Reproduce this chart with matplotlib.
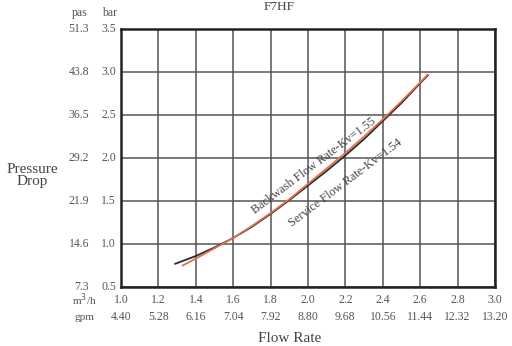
import matplotlib
matplotlib.use("Agg")
import matplotlib.pyplot as plt
import numpy as np

# ---- data ----
flow_m3h = [1.0, 1.2, 1.4, 1.6, 1.8, 2.0, 2.2, 2.4, 2.6, 2.8, 3.0]
flow_gpm = ["4.40", "5.28", "6.16", "7.04", "7.92", "8.80", "9.68", "10.56", "11.44", "12.32", "13.20"]
press_bar = [0.5, 1.0, 1.5, 2.0, 2.5, 3.0, 3.5]
press_pas = ["7.3", "14.6", "21.9", "29.2", "36.5", "43.8", "51.3"]

service_q = [1.29, 1.40, 1.50, 1.60, 1.70, 1.80, 1.90, 2.00, 2.10, 2.20, 2.30, 2.40, 2.50, 2.60, 2.64]
service_dp = [0.77, 0.86, 0.96, 1.07, 1.20, 1.35, 1.51, 1.68, 1.85, 2.03, 2.22, 2.43, 2.64, 2.87, 2.96]
backwash_q = [1.33, 1.40, 1.50, 1.60, 1.70, 1.80, 1.90, 2.00, 2.10, 2.20, 2.30, 2.40, 2.50, 2.60, 2.64]
backwash_dp = [0.75, 0.83, 0.95, 1.07, 1.21, 1.36, 1.52, 1.70, 1.88, 2.06, 2.25, 2.45, 2.66, 2.88, 2.97]

plt.rcParams['font.family'] = ['Liberation Serif', 'DejaVu Serif']

W, H = 512, 346
fig = plt.figure(figsize=(W / 100, H / 100), dpi=100)
L, R, T, B = 121, 495, 29, 287
ax = fig.add_axes([L / W, 1 - B / H, (R - L) / W, (B - T) / H])

ax.set_xlim(1.0, 3.0)
ax.set_ylim(0.5, 3.5)
ax.set_xticks(flow_m3h)
ax.set_yticks(press_bar)
ax.grid(True, color="#555555", linewidth=1.1)
ax.tick_params(length=0, labelbottom=False, labelleft=False)
for s in ax.spines.values():
    s.set_linewidth(1.8)
    s.set_color("#222222")

ax.plot(service_q, service_dp, color="#2a2a2a", linewidth=1.3, zorder=3,
        solid_joinstyle="round")
ax.plot(backwash_q, backwash_dp, color="#e0704f", linewidth=1.3, zorder=4,
        solid_joinstyle="round")

tc = "#555555"
fs = 8.5
aw = R - L
ah = B - T
# x tick labels
for q, g in zip(flow_m3h, flow_gpm):
    ax.text(q, -13 / ah, f"{q:.1f}", transform=ax.get_xaxis_transform(),
            ha="center", va="center", fontsize=fs, color=tc)
    ax.text(q, -30 / ah, g, transform=ax.get_xaxis_transform(),
            ha="center", va="center", fontsize=fs, color=tc)
ax.text((84 - L) / aw, -13 / ah, "m$^3$/h", transform=ax.transAxes,
        ha="center", va="center", fontsize=fs - 0.5, color=tc)
ax.text((84 - L) / aw, -30 / ah, "gpm", transform=ax.transAxes,
        ha="center", va="center", fontsize=fs - 0.5, color=tc)

# y tick labels
for b, p in zip(press_bar, press_pas):
    ax.text(-5 / aw, b, f"{b:.1f}", transform=ax.get_yaxis_transform(),
            ha="right", va="center", fontsize=fs, color=tc)
    ax.text((89 - L) / aw, b, p, transform=ax.get_yaxis_transform(),
            ha="right", va="center", fontsize=fs, color=tc)
fig.text(80 / W, 1 - 13 / H, "pas", ha="center", va="center", fontsize=fs, color=tc)
fig.text(110 / W, 1 - 13 / H, "bar", ha="center", va="center", fontsize=fs, color=tc)

fig.text(32 / W, 1 - 175 / H, "Pressure\nDrop", ha="center", va="center",
         fontsize=11, color="#444444", linespacing=0.9)
fig.text(290 / W, 1 - 339 / H, "Flow Rate", ha="center", va="center",
         fontsize=11, color="#444444")
fig.text(279 / W, 1 - 1 / H, "F7HF", ha="center", va="top",
         fontsize=9.5, color="#444444")

# curve labels
fig.text(314 / W, 1 - 166 / H, "Backwash Flow Rate-Kv=1.55", rotation=37,
         ha="center", va="center", fontsize=8.8, color="#444444",
         rotation_mode="anchor")
fig.text(346 / W, 1 - 183 / H, "Service Flow Rate-Kv=1.54", rotation=37,
         ha="center", va="center", fontsize=8.8, color="#444444",
         rotation_mode="anchor")

fig.savefig("out.png", dpi=100, facecolor="white")
